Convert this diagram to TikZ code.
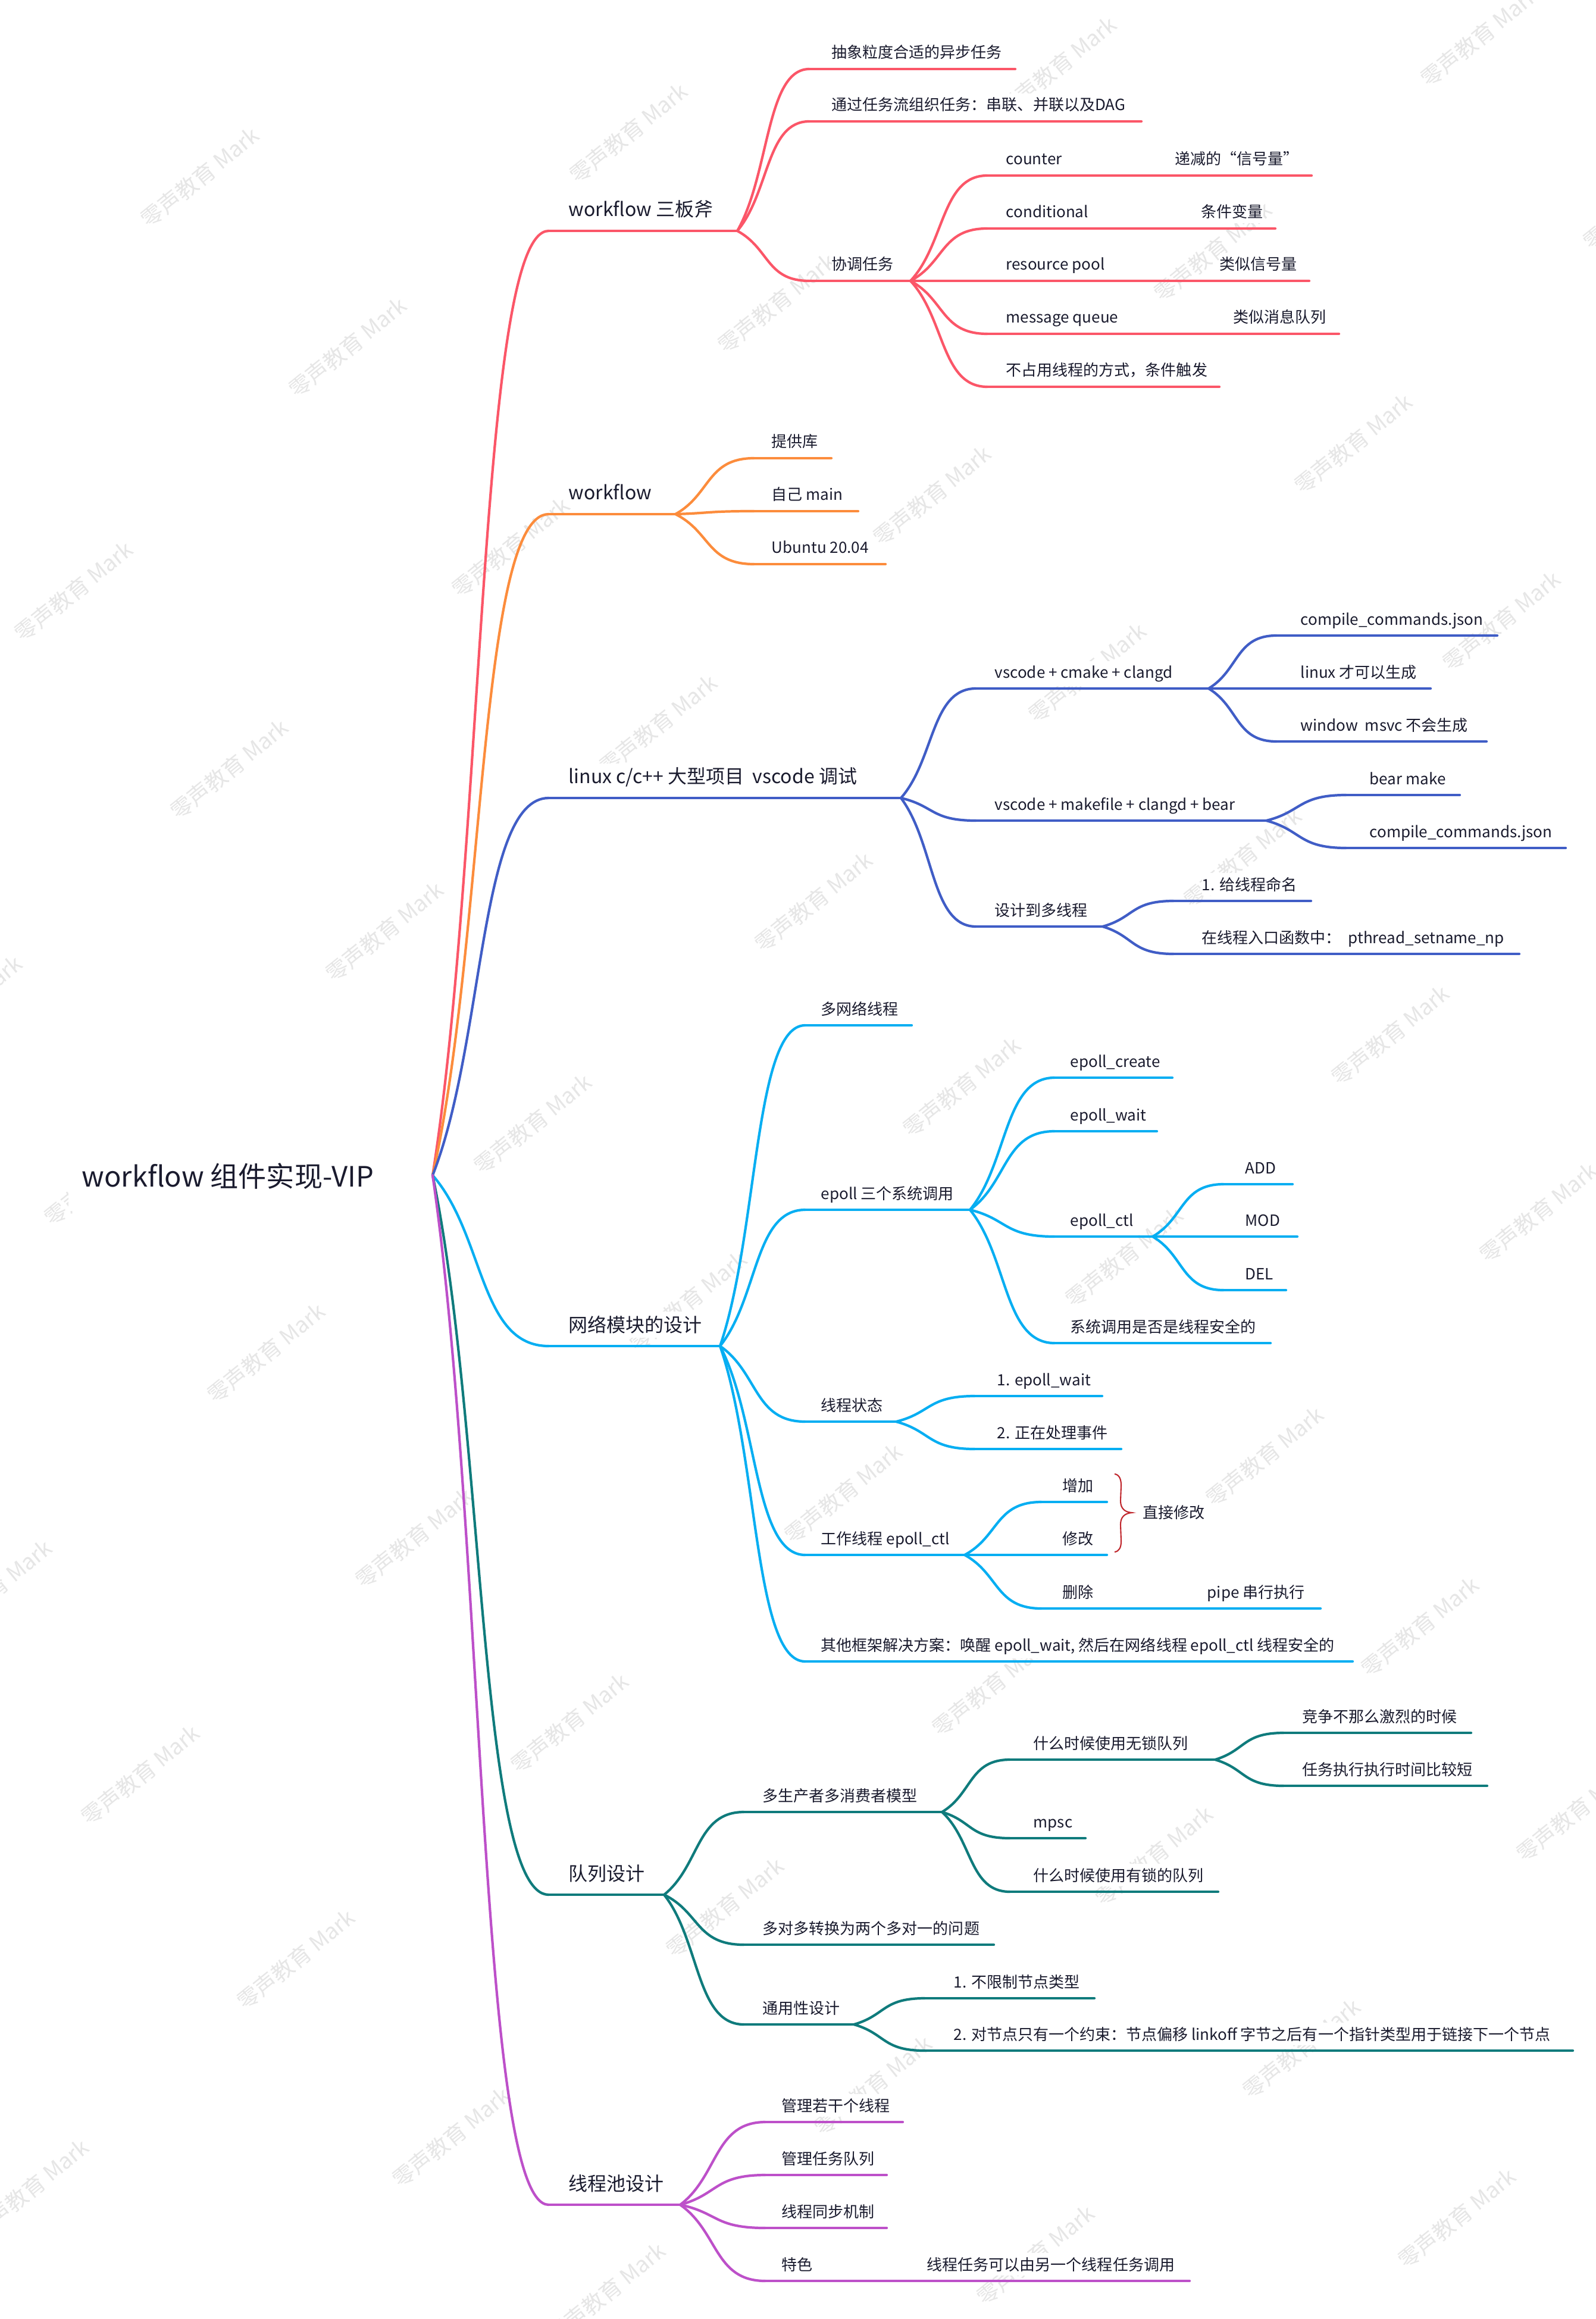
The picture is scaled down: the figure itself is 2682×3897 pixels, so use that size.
\documentclass[tikz,border=0pt]{standalone}
\usepackage{fontspec}
\setmainfont{Noto Sans CJK SC}
\usetikzlibrary{calc}
\definecolor{txtc}{HTML}{1A1B2E}
\definecolor{wmc}{HTML}{E6E6E6}
\definecolor{cA}{HTML}{FB5668}
\definecolor{cB}{HTML}{FC8C3C}
\definecolor{cC}{HTML}{405DC6}
\definecolor{cD}{HTML}{06AEF2}
\definecolor{cE}{HTML}{0F7B7C}
\definecolor{cF}{HTML}{BD50C9}
\definecolor{brc}{HTML}{C0272D}
\tikzset{
  txt/.style={text=txtc, inner xsep=0pt, inner ysep=2pt, fill=white, anchor=base west},
  lvl0/.style={txt, font=\fontsize{13.4}{16}\selectfont, inner xsep=5.7pt, inner ysep=8pt},
  lvl1/.style={txt, font=\fontsize{9.1}{11}\selectfont, yshift=0.24cm},
  lvl2/.style={txt, font=\fontsize{7.4}{9}\selectfont, yshift=0.18cm},
  plain2/.style={txt, font=\fontsize{7.4}{9}\selectfont},
  ul/.style={line width=1.2pt, line cap=round},
  wm/.style={font=\fontsize{10.5}{12}\selectfont, text=wmc, rotate=39, inner sep=0pt},
}
\newcommand\mmconn[3]{\draw[ul,#1] let \p1=(#2), \p2=(#3) in (\p1) .. controls ({\x1+0.45*(\x2-\x1)},{\y1+0.35*(\y2-\y1)}) and ({\x2-0.6*(\x2-\x1)},{\y2}) .. (\p2);}
\newcommand\mmtopic[8]{\coordinate (#1s) at (#6,#5); \coordinate (#1e) at (#7,#5); \node[#3] (#1) at (#4,#5) {#8}; \draw[ul,#2] (#1s) -- (#1e);}
\begin{document}
\begin{tikzpicture}[x=0.01cm,y=-0.01cm]
\fill[white] (0,0) rectangle (2682,3897);
\useasboundingbox (0,0) rectangle (2682,3897);
% watermarks
\begin{scope}
\clip (0,0) rectangle (2682,3897);
\foreach \wx/\wy [count=\wi] in {336/298, 1056/224, 1777/112, 2486/62, 584/584, 1305/510, 2038/423, 2759/336, 124/994, 858/920, 1566/833, 2274/746, 385/1293, 1106/1218, 1827/1131, 2523/1044, -62/1690, 646/1566, 1367/1516, 2088/1442, 2809/1355, 174/1976, 895/1889, 1616/1827, 2336/1740, 447/2274, 1156/2187, 1889/2113, 2585/2038, -12/2672, 696/2585, 1417/2510, 2125/2448, 236/2983, 957/2896, 1665/2834, 2386/2734, 497/3293, 1218/3206, 1939/3119, 2647/3045, 50/3679, 758/3592, 1467/3505, 2187/3443, 1019/3853, 1740/3790, 2448/3728}
  \node[wm] (wm\wi) at (\wx,\wy) {零声教育 Mark};
\end{scope}
% root (its topic box hides most of the watermark behind it)
\fill[white] (115,1870) rectangle (700,2035);
\node[lvl0] (root) at (117,1994) {workflow 组件实现-VIP};
\coordinate (R) at (727,1975);
% ---- A
\mmtopic{A}{cA}{lvl1}{955}{388}{922}{1239}{workflow 三板斧}
\mmconn{cA}{R}{As}
\mmtopic{A1}{cA}{lvl2}{1397}{116}{1360}{1706}{抽象粒度合适的异步任务}
\mmconn{cA}{Ae}{A1s}
\mmtopic{A2}{cA}{lvl2}{1397}{204}{1360}{1918}{通过任务流组织任务：串联、并联以及DAG}
\mmconn{cA}{Ae}{A2s}
\mmtopic{A3}{cA}{lvl2}{1397}{472}{1360}{1530}{协调任务}
\mmconn{cA}{Ae}{A3s}
\mmtopic{A31}{cA}{lvl2}{1690}{295}{1659}{2204}{counter}
\node[lvl2] (A31b) at (1974,295) {递减的“信号量”};
\mmconn{cA}{A3e}{A31s}
\mmtopic{A32}{cA}{lvl2}{1690}{384}{1659}{2143}{conditional}
\node[lvl2] (A32b) at (2018,384) {条件变量};
\mmconn{cA}{A3e}{A32s}
\mmtopic{A33}{cA}{lvl2}{1690}{472}{1659}{2200}{resource pool}
\node[lvl2] (A33b) at (2049,472) {类似信号量};
\mmconn{cA}{A3e}{A33s}
\mmtopic{A34}{cA}{lvl2}{1690}{561}{1659}{2250}{message queue}
\node[lvl2] (A34b) at (2072,561) {类似消息队列};
\mmconn{cA}{A3e}{A34s}
\mmtopic{A35}{cA}{lvl2}{1690}{650}{1659}{2049}{不占用线程的方式，条件触发}
\mmconn{cA}{A3e}{A35s}
% ---- B
\mmtopic{B}{cB}{lvl1}{955}{864}{922}{1135}{workflow}
\mmconn{cB}{R}{Bs}
\mmtopic{B1}{cB}{lvl2}{1296}{770}{1267}{1397}{提供库}
\mmconn{cB}{Be}{B1s}
\mmtopic{B2}{cB}{lvl2}{1296}{859}{1267}{1442}{自己 main}
\mmconn{cB}{Be}{B2s}
\mmtopic{B3}{cB}{lvl2}{1296}{948}{1267}{1488}{Ubuntu 20.04}
\mmconn{cB}{Be}{B3s}
% ---- C
\mmtopic{C}{cC}{lvl1}{955}{1341}{922}{1514}{linux c/c++ 大型项目\ \ vscode 调试}
\mmconn{cC}{R}{Cs}
\mmtopic{C1}{cC}{lvl2}{1671}{1157}{1640}{2031}{vscode + cmake + clangd}
\mmconn{cC}{Ce}{C1s}
\mmtopic{C11}{cC}{lvl2}{2185}{1068}{2145}{2516}{compile\_commands.json}
\mmconn{cC}{C1e}{C11s}
\mmtopic{C12}{cC}{lvl2}{2185}{1157}{2145}{2404}{linux 才可以生成}
\mmconn{cC}{C1e}{C12s}
\mmtopic{C13}{cC}{lvl2}{2185}{1246}{2145}{2498}{window\ \ msvc 不会生成}
\mmconn{cC}{C1e}{C13s}
\mmtopic{C2}{cC}{lvl2}{1671}{1379}{1640}{2128}{vscode + makefile + clangd + bear}
\mmconn{cC}{Ce}{C2s}
\mmtopic{C21}{cC}{lvl2}{2301}{1336}{2262}{2453}{bear make}
\mmconn{cC}{C2e}{C21s}
\mmtopic{C22}{cC}{lvl2}{2301}{1425}{2262}{2631}{compile\_commands.json}
\mmconn{cC}{C2e}{C22s}
\mmtopic{C3}{cC}{lvl2}{1671}{1557}{1640}{1853}{设计到多线程}
\mmconn{cC}{Ce}{C3s}
\mmtopic{C31}{cC}{lvl2}{2019}{1514}{1972}{2203}{1. 给线程命名}
\mmconn{cC}{C3e}{C31s}
\mmtopic{C32}{cC}{lvl2}{2019}{1603}{1972}{2553}{在线程入口函数中：\ \ pthread\_setname\_np}
\mmconn{cC}{C3e}{C32s}
% ---- D
\mmtopic{D}{cD}{lvl1}{955}{2262}{922}{1210}{网络模块的设计}
\mmconn{cD}{R}{Ds}
\mmtopic{D1}{cD}{lvl2}{1379}{1723}{1353}{1532}{多网络线程}
\mmconn{cD}{De}{D1s}
\mmtopic{D2}{cD}{lvl2}{1379}{2033}{1353}{1630}{epoll 三个系统调用}
\mmconn{cD}{De}{D2s}
\mmtopic{D21}{cD}{lvl2}{1798}{1811}{1772}{1970}{epoll\_create}
\mmconn{cD}{D2e}{D21s}
\mmtopic{D22}{cD}{lvl2}{1798}{1901}{1772}{1944}{epoll\_wait}
\mmconn{cD}{D2e}{D22s}
\mmtopic{D23}{cD}{lvl2}{1798}{2078}{1772}{1937}{epoll\_ctl}
\mmconn{cD}{D2e}{D23s}
\mmtopic{D231}{cD}{lvl2}{2092}{1990}{2056}{2172}{ADD}
\mmconn{cD}{D23e}{D231s}
\mmtopic{D232}{cD}{lvl2}{2092}{2078}{2056}{2180}{MOD}
\mmconn{cD}{D23e}{D232s}
\mmtopic{D233}{cD}{lvl2}{2092}{2168}{2056}{2161}{DEL}
\mmconn{cD}{D23e}{D233s}
\mmtopic{D24}{cD}{lvl2}{1798}{2257}{1772}{2135}{系统调用是否是线程安全的}
\mmconn{cD}{D2e}{D24s}
\mmtopic{D3}{cD}{lvl2}{1379}{2389}{1353}{1506}{线程状态}
\mmconn{cD}{De}{D3s}
\mmtopic{D31}{cD}{lvl2}{1675}{2346}{1638}{1852}{1. epoll\_wait}
\mmconn{cD}{D3e}{D31s}
\mmtopic{D32}{cD}{lvl2}{1675}{2435}{1638}{1884}{2. 正在处理事件}
\mmconn{cD}{D3e}{D32s}
\mmtopic{D4}{cD}{lvl2}{1379}{2613}{1353}{1621}{工作线程 epoll\_ctl}
\mmconn{cD}{De}{D4s}
\mmtopic{D41}{cD}{lvl2}{1785}{2524}{1750}{1860}{增加}
\mmconn{cD}{D4e}{D41s}
\mmtopic{D42}{cD}{lvl2}{1785}{2613}{1750}{1860}{修改}
\mmconn{cD}{D4e}{D42s}
\mmtopic{D43}{cD}{lvl2}{1785}{2703}{1750}{2219}{删除}
\node[lvl2] (D43b) at (2028,2703) {pipe 串行执行};
\mmconn{cD}{D4e}{D43s}
\mmtopic{D5}{cD}{lvl2}{1379}{2792}{1353}{2273}{其他框架解决方案：唤醒 epoll\_wait, 然后在网络线程 epoll\_ctl 线程安全的}
\mmconn{cD}{De}{D5s}
% summary brace
\draw[brc, line width=0.6pt] (1873,2477) .. controls (1881,2478) and (1884,2486) .. (1884,2496) -- (1883,2522) .. controls (1883,2535) and (1890,2541) .. (1902,2542) .. controls (1890,2543) and (1883,2549) .. (1883,2562) -- (1884,2590) .. controls (1884,2600) and (1881,2607) .. (1873,2608);
\node[plain2] (sum) at (1920,2551) {直接修改};
% ---- E
\mmtopic{E}{cE}{lvl1}{955}{3184}{922}{1116}{队列设计}
\mmconn{cE}{R}{Es}
\mmtopic{E1}{cE}{lvl2}{1281}{3045}{1250}{1583}{多生产者多消费者模型}
\mmconn{cE}{Ee}{E1s}
\mmtopic{E11}{cE}{lvl2}{1736}{2957}{1697}{2042}{什么时候使用无锁队列}
\mmconn{cE}{E1e}{E11s}
\mmtopic{E111}{cE}{lvl2}{2188}{2912}{2157}{2472}{竞争不那么激烈的时候}
\mmconn{cE}{E11e}{E111s}
\mmtopic{E112}{cE}{lvl2}{2188}{3001}{2157}{2499}{任务执行执行时间比较短}
\mmconn{cE}{E11e}{E112s}
\mmtopic{E12}{cE}{lvl2}{1736}{3089}{1697}{1824}{mpsc}
\mmconn{cE}{E1e}{E12s}
\mmtopic{E13}{cE}{lvl2}{1736}{3179}{1697}{2047}{什么时候使用有锁的队列}
\mmconn{cE}{E1e}{E13s}
\mmtopic{E2}{cE}{lvl2}{1281}{3268}{1250}{1670}{多对多转换为两个多对一的问题}
\mmconn{cE}{Ee}{E2s}
\mmtopic{E3}{cE}{lvl2}{1281}{3402}{1250}{1435}{通用性设计}
\mmconn{cE}{Ee}{E3s}
\mmtopic{E31}{cE}{lvl2}{1602}{3358}{1554}{1839}{1. 不限制节点类型}
\mmconn{cE}{E3e}{E31s}
\mmtopic{E32}{cE}{lvl2}{1602}{3446}{1554}{2643}{2. 对节点只有一个约束：节点偏移 linkoff 字节之后有一个指针类型用于链接下一个节点}
\mmconn{cE}{E3e}{E32s}
% ---- F
\mmtopic{F}{cF}{lvl1}{955}{3705}{922}{1143}{线程池设计}
\mmconn{cF}{R}{Fs}
\mmtopic{F1}{cF}{lvl2}{1313}{3566}{1286}{1517}{管理若干个线程}
\mmconn{cF}{Fe}{F1s}
\mmtopic{F2}{cF}{lvl2}{1313}{3655}{1286}{1490}{管理任务队列}
\mmconn{cF}{Fe}{F2s}
\mmtopic{F3}{cF}{lvl2}{1313}{3744}{1286}{1490}{线程同步机制}
\mmconn{cF}{Fe}{F3s}
\mmtopic{F4}{cF}{lvl2}{1313}{3833}{1286}{1999}{特色}
\node[lvl2] (F4b) at (1557,3833) {线程任务可以由另一个线程任务调用};
\mmconn{cF}{Fe}{F4s}
\end{tikzpicture}
\end{document}
